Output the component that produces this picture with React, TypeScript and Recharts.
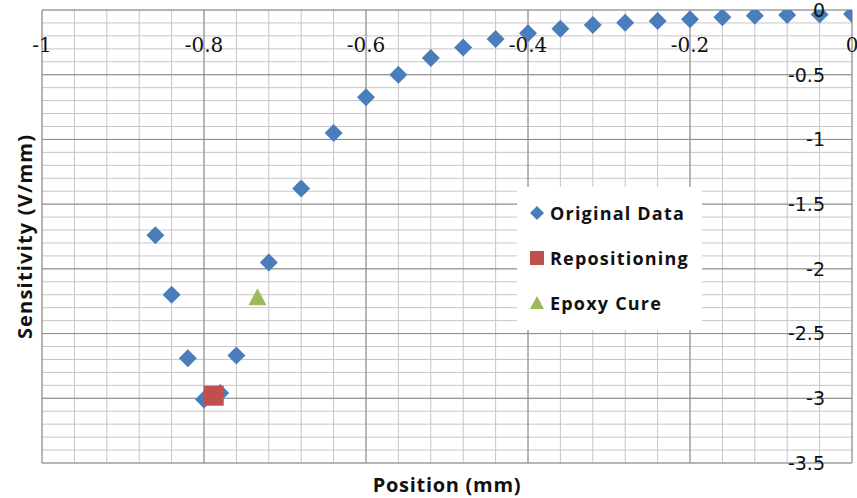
import React from "react";
import { ScatterChart, Scatter, XAxis, YAxis, CartesianGrid, Legend } from "recharts";

// Original Data series (position mm, sensitivity V/mm)
const originalPosition = [
  -0.86, -0.84, -0.82, -0.8, -0.78, -0.76, -0.72, -0.68, -0.64, -0.6, -0.56, -0.52, -0.48,
  -0.44, -0.4, -0.36, -0.32, -0.28, -0.24, -0.2, -0.16, -0.12, -0.08, -0.04, 0,
];
const originalSensitivity = [
  -1.74, -2.2, -2.69, -3.01, -2.96, -2.67, -1.95, -1.38, -0.95, -0.675, -0.5, -0.37, -0.29,
  -0.224, -0.18, -0.145, -0.116, -0.098, -0.085, -0.072, -0.056, -0.044, -0.039, -0.035, -0.031,
];

const repositionPosition = [-0.788];
const repositionSensitivity = [-2.98];

const epoxyPosition = [-0.734];
const epoxySensitivity = [-2.22];

const seriesNames = ["Original Data", "Repositioning", "Epoxy Cure"];
const seriesColors = ["#4a7ebb", "#c0504d", "#9bbb59"];

// axis labels + gridlines
const xTicks = [-1, -0.8, -0.6, -0.4, -0.2, 0];
const yTicks = [0, -0.5, -1, -1.5, -2, -2.5, -3, -3.5];
const xMinor = [
  -1, -0.96, -0.92, -0.88, -0.84, -0.8, -0.76, -0.72, -0.68, -0.64, -0.6, -0.56, -0.52,
  -0.48, -0.44, -0.4, -0.36, -0.32, -0.28, -0.24, -0.2, -0.16, -0.12, -0.08, -0.04, 0,
];
const yMinor = [
  0, -0.1, -0.2, -0.3, -0.4, -0.5, -0.6, -0.7, -0.8, -0.9, -1, -1.1, -1.2, -1.3, -1.4, -1.5,
  -1.6, -1.7, -1.8, -1.9, -2, -2.1, -2.2, -2.3, -2.4, -2.5, -2.6, -2.7, -2.8, -2.9, -3,
  -3.1, -3.2, -3.3, -3.4, -3.5,
];

const toPoints = (xs: number[], ys: number[]) => xs.map((x, i) => ({ x, y: ys[i] }));

const originalData = toPoints(originalPosition, originalSensitivity);
const repositionData = toPoints(repositionPosition, repositionSensitivity);
const epoxyData = toPoints(epoxyPosition, epoxySensitivity);

const Diamond = (props: any) => {
  const { cx, cy, fill } = props;
  const r = 9;
  return <path d={`M${cx},${cy - r}L${cx + r},${cy}L${cx},${cy + r}L${cx - r},${cy}Z`} fill={fill} />;
};

const Square = (props: any) => {
  const { cx, cy, fill } = props;
  return <rect x={cx - 10} y={cy - 10} width={20} height={20} fill={fill} />;
};

const Triangle = (props: any) => {
  const { cx, cy, fill } = props;
  return <path d={`M${cx},${cy - 9}L${cx + 9},${cy + 8}L${cx - 9},${cy + 8}Z`} fill={fill} />;
};

const XTick = ({ x, y, payload }: any) => (
  <text x={x} y={y + 35} dy="0.36em" textAnchor="middle" fontFamily="DejaVu Serif" fontSize={20} fill="#111">
    {payload.value}
  </text>
);

const YTick = ({ x, y, payload }: any) => (
  <text x={x - 27} y={y} dy="0.36em" textAnchor="end" fontFamily="DejaVu Sans" fontSize={19} fill="#111">
    {payload.value}
  </text>
);

const legendIcon = (i: number) => {
  const c = seriesColors[i];
  if (i === 0) return <path d="M7,0L14,7L7,14L0,7Z" fill={c} />;
  if (i === 1) return <rect x={0} y={0} width={14} height={14} fill={c} />;
  return <path d="M7,0L14,13L0,13Z" fill={c} />;
};

const LegendBox = () => (
  <div style={{ width: 185, height: 143, background: "#fff" }}>
    {seriesNames.map((name, i) => (
      <div
        key={name}
        style={{ position: "absolute", left: 13, top: 14 + i * 45, display: "flex", alignItems: "center", height: 24 }}
      >
        <svg width={14} height={14} style={{ marginRight: 6 }}>
          {legendIcon(i)}
        </svg>
        <span
          style={{
            fontFamily: "Open Sans",
            fontWeight: 700,
            fontSize: 18,
            letterSpacing: 1.2,
            color: "#111",
            whiteSpace: "nowrap",
          }}
        >
          {name}
        </span>
      </div>
    ))}
  </div>
);

export default function App() {
  return (
    <div style={{ position: "absolute", left: 0, top: 0, width: 857, height: 498, background: "#fff" }}>
      <ScatterChart width={857} height={498} margin={{ top: 9, right: 4, bottom: 0, left: 0 }}>
        <CartesianGrid verticalValues={xMinor} horizontalValues={yMinor} stroke="#c6c6c6" />
        <CartesianGrid verticalValues={xTicks} horizontalValues={yTicks} stroke="#8a8a8a" />
        <XAxis
          type="number"
          dataKey="x"
          orientation="top"
          height={1}
          domain={[-1, 0]}
          ticks={xTicks}
          tick={(p: any) => <XTick {...p} />}
          tickSize={0}
          tickMargin={0}
          axisLine={false}
          tickLine={false}
          interval={0}
          allowDataOverflow
        />
        <XAxis
          xAxisId="bottom"
          type="number"
          orientation="bottom"
          height={35}
          domain={[-1, 0]}
          tick={false}
          axisLine={false}
          tickLine={false}
          label={{
            value: "Position (mm)",
            position: "center",
            dy: 4,
            fontFamily: "Open Sans",
            fontWeight: 700,
            fontSize: 20,
            letterSpacing: 0.7,
            fill: "#111",
          }}
        />
        <YAxis
          type="number"
          dataKey="y"
          orientation="right"
          width={1}
          domain={[-3.5, 0]}
          ticks={yTicks}
          tick={(p: any) => <YTick {...p} />}
          tickSize={0}
          tickMargin={0}
          axisLine={false}
          tickLine={false}
          interval={0}
          allowDataOverflow
        />
        <YAxis
          yAxisId="left"
          orientation="left"
          width={42}
          domain={[-3.5, 0]}
          tick={false}
          axisLine={false}
          tickLine={false}
          label={{
            value: "Sensitivity (V/mm)",
            angle: -90,
            position: "center",
            dx: 4,
            fontFamily: "Open Sans",
            fontWeight: 700,
            fontSize: 20,
            letterSpacing: 1.2,
            fill: "#111",
          }}
        />
        <Legend
          layout="vertical"
          align="center"
          verticalAlign="middle"
          wrapperStyle={{ left: 517, top: 187, width: 185, height: 143 }}
          content={<LegendBox />}
        />
        <Scatter name={seriesNames[0]} data={originalData} fill={seriesColors[0]} shape={Diamond} isAnimationActive={false} />
        <Scatter name={seriesNames[1]} data={repositionData} fill={seriesColors[1]} shape={Square} isAnimationActive={false} />
        <Scatter name={seriesNames[2]} data={epoxyData} fill={seriesColors[2]} shape={Triangle} isAnimationActive={false} />
      </ScatterChart>
    </div>
  );
}
